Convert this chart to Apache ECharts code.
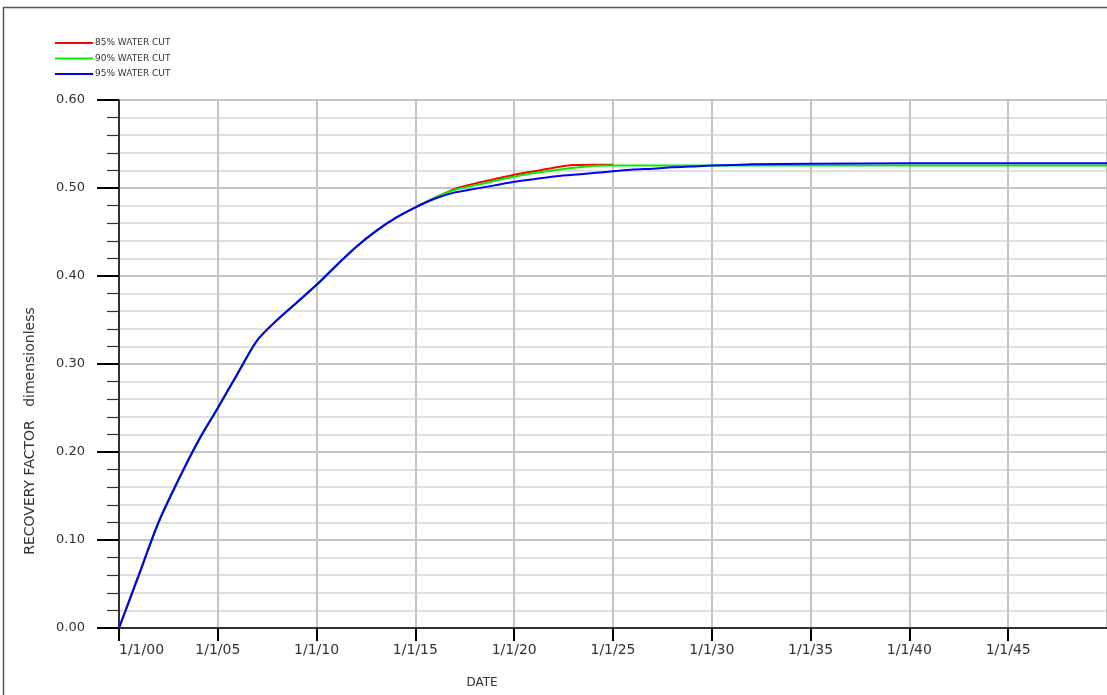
<!DOCTYPE html>
<html>
<head>
<meta charset="utf-8">
<title>Recovery Factor vs Date</title>
<script src="https://cdn.jsdelivr.net/npm/echarts@6/dist/echarts.min.js"></script>
<style>
  html, body { margin: 0; padding: 0; background: #ffffff; }
  #chart { width: 1107px; height: 695px; }
</style>
</head>
<body>
<div id="chart"></div>
<script>
// Years since start (1/1/00) for each sample
const yearsEarly = [0, 1, 2, 3, 4, 5, 6, 7, 8, 9, 10, 11, 12, 13, 14, 15, 16, 17, 18, 19, 20, 21, 22, 23, 24, 25];
const yearsLate = [26, 27, 28, 29, 30, 31, 32, 35, 40, 45, 50];

// Recovery factor (dimensionless) for each water-cut limit
const rf85 = [0, 0.060, 0.120, 0.168, 0.212, 0.250, 0.289, 0.327, 0.350, 0.370, 0.390, 0.412, 0.433, 0.451, 0.466, 0.478, 0.489, 0.499, 0.505, 0.510, 0.515, 0.519, 0.523, 0.526, 0.5265, 0.5265];
const rf90Early = [0, 0.060, 0.120, 0.168, 0.212, 0.250, 0.289, 0.327, 0.350, 0.370, 0.390, 0.412, 0.433, 0.451, 0.466, 0.478, 0.489, 0.498, 0.503, 0.508, 0.513, 0.517, 0.520, 0.523, 0.525, 0.5255];
const rf90Late = [0.5255, 0.5255, 0.5255, 0.5255, 0.5255, 0.5255, 0.5255, 0.5255, 0.5255, 0.5255, 0.5255];
const rf95Early = [0, 0.060, 0.120, 0.168, 0.212, 0.250, 0.289, 0.327, 0.350, 0.370, 0.390, 0.412, 0.433, 0.451, 0.466, 0.478, 0.488, 0.495, 0.499, 0.503, 0.507, 0.510, 0.513, 0.515, 0.517, 0.519];
const rf95Late = [0.521, 0.522, 0.5235, 0.5245, 0.5255, 0.526, 0.527, 0.5275, 0.528, 0.528, 0.528];

const seriesNames = ['85% WATER CUT', '90% WATER CUT', '95% WATER CUT'];
const yTickLabels = ['0.00', '0.10', '0.20', '0.30', '0.40', '0.50', '0.60'];

function pairs(xs, ys) {
  return xs.map((x, i) => [x, ys[i]]);
}

const FONT = 'DejaVu Sans';
const chart = echarts.init(document.getElementById('chart'), null, { renderer: 'canvas' });

const lineCommon = {
  type: 'line',
  showSymbol: false,
  smooth: 0.3
};

chart.setOption({
  backgroundColor: '#ffffff',
  animation: false,
  grid: { left: 119, right: 0, top: 100, bottom: 67, containLabel: false },
  legend: {
    orient: 'vertical',
    left: 50,
    top: 33,
    itemWidth: 38,
    itemHeight: 2,
    itemGap: 5.5,
    icon: 'rect',
    textStyle: { fontFamily: FONT, fontSize: 9, color: '#333', lineHeight: 10, padding: [0, 0, 0, -3] },
    data: seriesNames
  },
  xAxis: {
    type: 'value',
    min: 0,
    max: 50,
    interval: 5,
    axisLine: { show: true, onZero: false, lineStyle: { color: '#000', width: 1.5 } },
    axisTick: { show: true, length: 13, lineStyle: { color: '#000', width: 2 } },
    axisLabel: {
      margin: 15,
      fontFamily: FONT,
      fontSize: 14,
      color: '#333',
      showMaxLabel: false,
      alignMinLabel: 'left',
      formatter: v => '1/1/' + String(v).padStart(2, '0')
    },
    splitLine: { show: true, lineStyle: { color: '#c4c4c4', width: 2 } }
  },
  yAxis: {
    type: 'value',
    min: 0,
    max: 0.6,
    interval: 0.1,
    axisLine: { show: true, lineStyle: { color: '#000', width: 1.5 } },
    axisTick: { show: true, length: 22, lineStyle: { color: '#000', width: 2 } },
    minorTick: { show: true, splitNumber: 5, length: 12, lineStyle: { color: '#333', width: 1.2 } },
    axisLabel: {
      margin: 34,
      fontFamily: FONT,
      fontSize: 13,
      color: '#333',
      formatter: v => yTickLabels[Math.round(v * 10)]
    },
    splitLine: { show: true, lineStyle: { color: '#c4c4c4', width: 2 } },
    minorSplitLine: { show: true, lineStyle: { color: '#d6d6d6', width: 1.5 } }
  },
  graphic: [
    {
      type: 'polyline',
      silent: true,
      shape: { points: [[3.5, 695], [3.5, 7.5], [1107, 7.5]] },
      style: { stroke: '#555', lineWidth: 1.5, fill: null }
    },
    {
      type: 'text',
      x: 482,
      y: 683,
      style: { text: 'DATE', fontFamily: FONT, fontSize: 12, fill: '#333', align: 'center', verticalAlign: 'middle' }
    },
    {
      type: 'text',
      x: 30,
      y: 431,
      rotation: Math.PI / 2,
      style: {
        text: 'RECOVERY FACTOR   dimensionless',
        fontFamily: FONT, fontSize: 14, fill: '#333', align: 'center', verticalAlign: 'middle'
      }
    }
  ],
  series: [
    Object.assign({}, lineCommon, {
      name: seriesNames[0],
      color: '#ff0000',
      lineStyle: { width: 2, color: '#ff0000' },
      data: pairs(yearsEarly, rf85)
    }),
    Object.assign({}, lineCommon, {
      name: seriesNames[1],
      color: '#00ee00',
      lineStyle: { width: 2, color: '#00ee00' },
      data: pairs(yearsEarly, rf90Early).concat(pairs(yearsLate, rf90Late))
    }),
    Object.assign({}, lineCommon, {
      name: seriesNames[2],
      color: '#0000ff',
      lineStyle: { width: 2, color: '#0000ff' },
      data: pairs(yearsEarly, rf95Early).concat(pairs(yearsLate, rf95Late))
    })
  ]
});
</script>
</body>
</html>
